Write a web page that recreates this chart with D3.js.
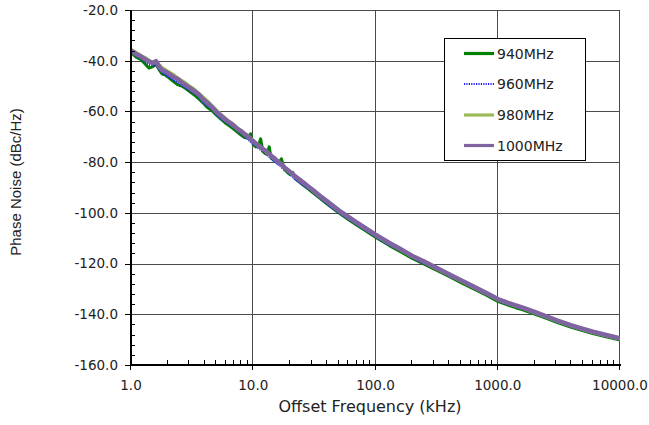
<!DOCTYPE html>
<html>
<head>
<meta charset="utf-8">
<script src="https://cdn.jsdelivr.net/npm/d3@7/dist/d3.min.js"></script>
<style>
  html, body { margin: 0; padding: 0; background: #fff; }
  svg { display: block; }
</style>
</head>
<body>
<svg id="chart" width="649" height="425"></svg>
<script>
// ---------- DATA ----------
const freqKHz = [1.0,1.1,1.2,1.3,1.4,1.5,1.6,1.7,1.8,1.9,2.0,2.2,2.4,2.6,2.8,3.0,3.3,3.6,3.9,4.2,4.6,5.0,5.5,6.0,6.5,7.0,7.5,8.0,8.5,9.0,9.5,10,10.5,11,11.5,12,12.5,13,13.5,14,15,16,17,18,19,20,21,22,24,26,28,30,35,40,50,60,70,80,100,130,160,200,250,300,400,500,600,800,1000,1200,1400,1600,2000,2500,3000,4000,5000,6000,7000,8000,10000];

const pn940 = [-36.8,-38.6,-39.5,-41.2,-42.9,-42.4,-41.5,-43.6,-45.3,-45.6,-46.4,-48.0,-49.4,-50.0,-51.0,-52.1,-53.5,-55.1,-56.7,-58.4,-59.7,-61.5,-63.2,-64.8,-66.0,-67.2,-68.3,-69.4,-70.3,-70.5,-68.8,-73.0,-74.0,-73.6,-70.8,-75.8,-76.6,-76.9,-73.9,-78.4,-79.6,-80.6,-78.7,-82.9,-84.0,-84.9,-84.0,-86.6,-88.0,-89.3,-90.4,-91.6,-94.2,-96.4,-100.0,-102.6,-104.8,-106.6,-109.6,-112.9,-115.3,-118.0,-120.2,-122.1,-125.1,-127.5,-129.4,-132.4,-134.9,-136.3,-137.4,-138.2,-139.9,-141.6,-143.1,-145.1,-146.5,-147.6,-148.4,-149.1,-150.2];

const pn960 = [-36.9,-38.2,-39.4,-40.7,-41.6,-42.0,-41.7,-43.5,-44.9,-45.5,-46.1,-47.6,-48.4,-49.9,-50.8,-51.9,-53.3,-54.8,-56.4,-57.9,-59.4,-61.3,-63.0,-64.6,-65.8,-67.0,-68.1,-69.1,-70.0,-71.0,-72.0,-73.0,-73.8,-74.6,-75.3,-76.0,-76.5,-77.3,-78.0,-78.6,-79.8,-81.0,-82.1,-83.2,-84.1,-85.0,-85.9,-86.7,-88.1,-89.4,-90.6,-91.7,-94.3,-96.4,-99.9,-102.5,-104.6,-106.4,-109.4,-112.8,-115.1,-117.8,-120.0,-121.9,-124.9,-127.3,-129.2,-132.2,-134.7,-136.1,-137.2,-138.0,-139.7,-141.4,-142.9,-144.9,-146.3,-147.4,-148.2,-148.9,-149.9];

const pn980 = [-35.8,-36.9,-38.0,-38.9,-40.0,-40.7,-40.4,-41.8,-43.0,-43.6,-44.3,-45.5,-46.9,-48.0,-49.0,-50.1,-51.4,-53.1,-54.6,-56.0,-57.9,-59.7,-61.6,-63.1,-64.4,-65.6,-66.8,-67.8,-68.8,-69.7,-70.7,-71.7,-72.6,-73.4,-74.1,-74.8,-75.4,-76.2,-76.9,-77.5,-78.7,-79.9,-81.0,-82.1,-83.0,-83.9,-84.8,-85.6,-87.0,-88.3,-89.5,-90.6,-93.3,-95.4,-99.0,-101.7,-103.8,-105.6,-108.7,-112.0,-114.4,-117.1,-119.3,-121.3,-124.3,-126.7,-128.6,-131.6,-134.1,-135.5,-136.6,-137.5,-139.2,-140.9,-142.4,-144.5,-145.9,-147.0,-147.8,-148.5,-149.6];

const pn1000 = [-36.0,-37.4,-38.3,-39.4,-40.2,-40.9,-40.2,-42.4,-43.8,-44.2,-44.9,-46.3,-47.2,-48.6,-49.7,-50.6,-52.1,-53.4,-55.3,-56.6,-58.3,-60.2,-61.9,-63.5,-64.6,-65.8,-67.1,-67.9,-69.0,-69.8,-71.0,-71.8,-72.7,-73.4,-74.1,-74.9,-75.3,-76.2,-76.8,-77.5,-78.6,-79.9,-80.9,-82.1,-83.0,-83.9,-84.7,-85.6,-87.0,-88.3,-89.5,-90.6,-93.3,-95.4,-99.0,-101.6,-103.8,-105.6,-108.6,-111.9,-114.3,-117.0,-119.2,-121.2,-124.2,-126.6,-128.5,-131.5,-134.0,-135.4,-136.5,-137.4,-139.1,-140.8,-142.3,-144.4,-145.8,-146.9,-147.7,-148.4,-149.5];

const seriesNames = ["940MHz","960MHz","980MHz","1000MHz"];
const seriesValues = [pn940, pn960, pn980, pn1000];

const xTickValues = [1, 10, 100, 1000, 10000];
const xTickLabels = ["1.0","10.0","100.0","1000.0","10000.0"];
const yTickValues = [-160,-140,-120,-100,-80,-60,-40,-20];
const yTickLabels = ["-160.0","-140.0","-120.0","-100.0","-80.0","-60.0","-40.0","-20.0"];

const xTitle = "Offset Frequency (kHz)";
const yTitle = "Phase Noise (dBc/Hz)";

// ---------- STYLES ----------
const styles = [
  { color: "#008000", width: 3.0, dash: null },
  { color: "#1f1fff", width: 1.8, dash: "1.2,1.2" },
  { color: "#9bbb59", width: 4.0, dash: null },
  { color: "#8064a2", width: 4.6, dash: null }
];

// ---------- LAYOUT ----------
const L = 131, R = 620, T = 10, B = 365;
const svg = d3.select("#chart");

const x = d3.scaleLog().domain([1, 10000]).range([L, R]);
const y = d3.scaleLinear().domain([-160, -20]).range([B, T]);

svg.append("defs").append("clipPath").attr("id","plotclip")
  .append("rect").attr("x", L).attr("y", T - 2).attr("width", R - L).attr("height", B - T + 2);

// gridlines
const grid = svg.append("g").attr("stroke", "#4a4a4a").attr("stroke-width", 1).attr("shape-rendering","crispEdges");
grid.selectAll("line.h").data(yTickValues).join("line")
  .attr("x1", L).attr("x2", R)
  .attr("y1", d => Math.round(y(d)) + 0.5).attr("y2", d => Math.round(y(d)) + 0.5);
grid.selectAll("line.v").data(xTickValues).join("line")
  .attr("y1", T).attr("y2", B)
  .attr("x1", d => Math.round(x(d)) - 0.5).attr("x2", d => Math.round(x(d)) - 0.5);

// series
const line = d3.line()
  .x((d, i) => x(freqKHz[i]))
  .y(d => y(d));

const gSeries = svg.append("g").attr("clip-path", "url(#plotclip)");
seriesValues.forEach((vals, k) => {
  const p = gSeries.append("path")
    .attr("d", line(vals))
    .attr("fill", "none")
    .attr("stroke", styles[k].color)
    .attr("stroke-width", styles[k].width)
    .attr("stroke-linejoin", "round");
  if (styles[k].dash) p.attr("stroke-dasharray", styles[k].dash);
});

// axes lines
const axes = svg.append("g").attr("stroke", "#000").attr("shape-rendering","crispEdges");
axes.append("line").attr("x1", L - 0.5).attr("x2", L - 0.5).attr("y1", T).attr("y2", B + 1).attr("stroke-width", 2);
axes.append("line").attr("x1", L - 1).attr("x2", R + 1).attr("y1", B).attr("y2", B).attr("stroke-width", 2);

const yMinor = d3.range(-156, -20, 4).filter(v => v % 20 !== 0);
axes.selectAll("line.ym").data(yMinor).join("line")
  .attr("x1", L).attr("x2", L + 4)
  .attr("y1", d => Math.round(y(d)) + 0.5).attr("y2", d => Math.round(y(d)) + 0.5)
  .attr("stroke-width", 1);
axes.selectAll("line.yM").data(yTickValues).join("line")
  .attr("x1", L - 6).attr("x2", L)
  .attr("y1", d => Math.round(y(d)) + 0.5).attr("y2", d => Math.round(y(d)) + 0.5)
  .attr("stroke-width", 1);

const xMinor = [];
[1, 10, 100, 1000].forEach(dec => { for (let m = 2; m <= 9; m++) xMinor.push(dec * m); });
axes.selectAll("line.xm").data(xMinor).join("line")
  .attr("x1", d => Math.round(x(d)) - 0.5).attr("x2", d => Math.round(x(d)) - 0.5)
  .attr("y1", B - 5).attr("y2", B)
  .attr("stroke-width", 1);
axes.selectAll("line.xM").data(xTickValues).join("line")
  .attr("x1", d => Math.round(x(d)) - 0.5).attr("x2", d => Math.round(x(d)) - 0.5)
  .attr("y1", B).attr("y2", B + 5)
  .attr("stroke-width", 1);

// tick labels
const tickFont = "'DejaVu Sans', sans-serif";
svg.append("g").selectAll("text").data(yTickValues).join("text")
  .attr("x", 118).attr("y", d => y(d))
  .attr("dy", "0.36em")
  .attr("text-anchor", "end")
  .attr("font-family", tickFont).attr("font-size", 13.5).attr("fill", "#222")
  .text((d, i) => yTickLabels[i]);

svg.append("g").selectAll("text").data(xTickValues).join("text")
  .attr("x", d => x(d)).attr("y", 389.5)
  .attr("text-anchor", "middle")
  .attr("font-family", tickFont).attr("font-size", 13.5).attr("fill", "#222")
  .text((d, i) => xTickLabels[i]);

// axis titles
svg.append("text")
  .attr("x", 370).attr("y", 412)
  .attr("text-anchor", "middle")
  .attr("font-family", tickFont).attr("font-size", 16).attr("fill", "#222")
  .text(xTitle);

svg.append("text")
  .attr("transform", "translate(21,182) rotate(-90)")
  .attr("text-anchor", "middle")
  .attr("font-family", "'Liberation Sans', Arial, sans-serif").attr("font-size", 15).attr("fill", "#222")
  .text(yTitle);

// legend
const lg = svg.append("g");
lg.append("rect").attr("x", 444.5).attr("y", 38.5).attr("width", 141).attr("height", 122)
  .attr("fill", "#fff").attr("stroke", "#000").attr("stroke-width", 1);
const rowY = [53.5, 84, 115, 145.5];
seriesNames.forEach((name, k) => {
  const l = lg.append("line")
    .attr("x1", 464).attr("x2", 494)
    .attr("y1", rowY[k]).attr("y2", rowY[k])
    .attr("stroke", styles[k].color)
    .attr("stroke-width", k === 1 ? 2 : 3.2);
  if (styles[k].dash) l.attr("stroke-dasharray", styles[k].dash);
  lg.append("text")
    .attr("x", 497).attr("y", rowY[k]).attr("dy", "0.36em")
    .attr("font-family", tickFont).attr("font-size", 14).attr("fill", "#222")
    .text(name);
});
</script>
</body>
</html>
